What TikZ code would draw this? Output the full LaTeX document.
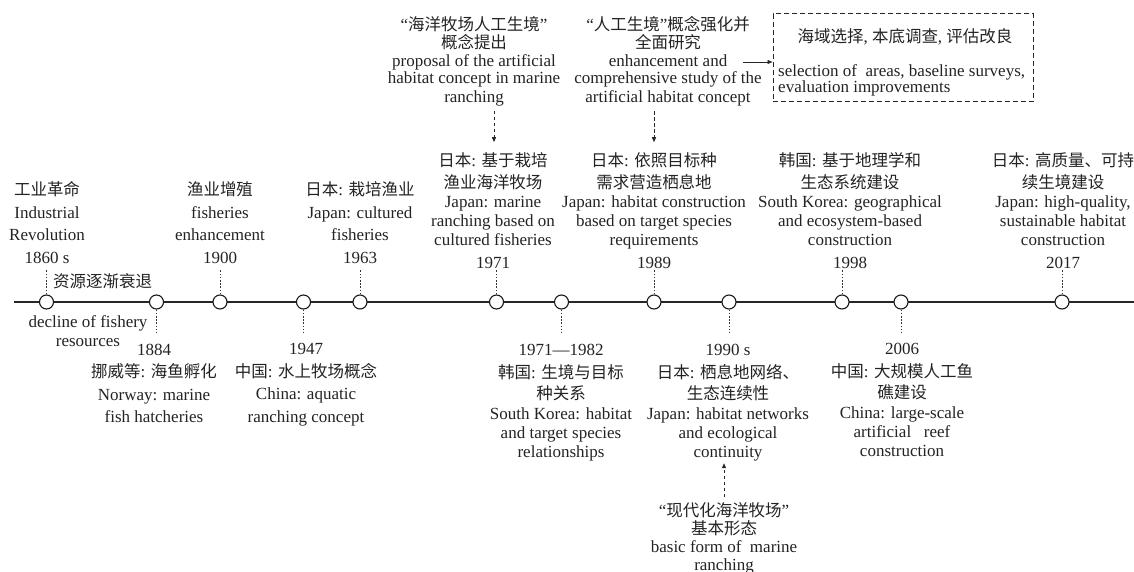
\documentclass[tikz,border=0pt]{standalone}
\usepackage{fontspec}
\setmainfont{Liberation Serif}
\newfontfamily\cjk[Scale=0.97]{Noto Sans CJK SC}
\usetikzlibrary{arrows.meta}
\newcommand\zhtx[1]{{\cjk #1}}
\newcommand\tstrut{\rule{0pt}{16pt}}
\newcommand\bstrut{\rule[-6pt]{0pt}{6pt}}
\definecolor{tc}{RGB}{35,35,35}
\begin{document}
\begin{tikzpicture}[x=1pt,y=-1pt,
 txt/.style={align=center,inner sep=0pt,text=tc,font=\fontsize{17}{19.5}\selectfont,execute at begin node=\tstrut,execute at end node=\bstrut},
 stxt/.style={inner sep=0pt,text=tc,font=\fontsize{17}{19.5}\selectfont},
 evt/.style={circle,draw=black!90,fill=white,line width=1.1pt,minimum size=14pt,inner sep=0pt},
 tl/.style={line width=2.8pt,draw=black!85},
 dotl/.style={draw=black!80,line width=1pt,dash pattern=on 1.6pt off 1.6pt},
 darr/.style={draw=black!85,line width=0.9pt,dash pattern=on 3.5pt off 2.5pt,-{Triangle[length=5pt,width=4pt]}},
 sarr/.style={draw=black!85,line width=0.9pt,-{Triangle[length=5pt,width=4pt]}},
 dbox/.style={draw=black!85,line width=1pt,dash pattern=on 5pt off 3pt,minimum width=260pt,minimum height=88pt,inner sep=0pt}
]
\useasboundingbox (0,0) rectangle (1134,572);

% timeline
\coordinate (tlA) at (14,302);
\coordinate (tlB) at (1134,302);
\draw[tl] (tlA) -- (tlB);

% dotted leader end points
\foreach \n/\x in {1860/46.5,1900/220,1963/360,1971/496.5,1989/654,1998/842,2017/1062}{
  \coordinate (u\n) at (\x,270);
}
\foreach \n/\x in {1884/156.5,1947/303.5,1982/561.5,1990/729,2006/901}{
  \coordinate (d\n) at (\x,333);
}

% event circles
\node[evt] (c1860) at (46.5,302) {};
\node[evt] (c1884) at (156.5,302) {};
\node[evt] (c1900) at (220,302) {};
\node[evt] (c1947) at (303.5,302) {};
\node[evt] (c1963) at (360,302) {};
\node[evt] (c1971) at (496.5,302) {};
\node[evt] (c1982) at (561.5,302) {};
\node[evt] (c1989) at (654,302) {};
\node[evt] (c1990) at (729,302) {};
\node[evt] (c1998) at (842,302) {};
\node[evt] (c2006) at (901,302) {};
\node[evt] (c2017) at (1062,302) {};

% dotted leaders
\foreach \n in {1860,1900,1963,1971,1989,1998,2017}{
  \draw[dotl] (c\n.north) -- (u\n);
}
\foreach \n in {1884,1947,1982,1990,2006}{
  \draw[dotl] (c\n.south) -- (d\n);
}

% group A above
\node[txt,anchor=south] (t1860) at (47,269.5) {\zhtx{工业革命}\\[3pt]Industrial\\[3pt]Revolution\\[3pt]1860 s};
\node[txt,anchor=south] (t1900) at (220,269.5) {\zhtx{渔业增殖}\\[3pt]fisheries\\[3pt]enhancement\\[3pt]1900};
\node[txt,anchor=south] (t1963) at (360,269.5) {\zhtx{日本}: \zhtx{栽培渔业}\\[3pt]Japan: cultured\\[3pt]fisheries\\[3pt]1963};
\node[stxt,anchor=base west] (tdecl) at (53,287) {\zhtx{资源逐渐衰退}};

% group B above
\node[txt,anchor=south] (t1971) at (493,274.5) {\zhtx{日本}: \zhtx{基于栽培}\\[2.5pt]\zhtx{渔业海洋牧场}\\Japan: marine\\[-0.5pt]ranching based on\\[-1pt]cultured fisheries\\[3.5pt]1971};
\node[txt,anchor=south] (t1989) at (654,274.5) {\zhtx{日本}: \zhtx{依照目标种}\\[2.5pt]\zhtx{需求营造栖息地}\\Japan: habitat construction\\[-0.5pt]based on target species\\[-1pt]requirements\\[3.5pt]1989};
\node[txt,anchor=south] (t1998) at (850,274.5) {\zhtx{韩国}: \zhtx{基于地理学和}\\[2.5pt]\zhtx{生态系统建设}\\South Korea: geographical\\[-0.5pt]and ecosystem-based\\[-1pt]construction\\[3.5pt]1998};
\node[txt,anchor=south] (t2017) at (1063,274.5) {\zhtx{日本}: \zhtx{高质量、可持}\\[2.5pt]\zhtx{续生境建设}\\Japan: high-quality,\\[-0.5pt]sustainable habitat\\[-1pt]construction\\[3.5pt]2017};

% group A below
\node[txt,anchor=north] (tdeclen) at (88,315.5) {decline of fishery\\[-0.5pt]resources};
\node[txt,anchor=north] (t1884) at (154,343.5) {1884\\[3pt]\zhtx{挪威等}: \zhtx{海鱼孵化}\\[3pt]Norway: marine\\[3pt]fish hatcheries};
\node[txt,anchor=north] (t1947) at (306,343.5) {1947\\[3pt]\zhtx{中国}: \zhtx{水上牧场概念}\\[3pt]China: aquatic\\[3pt]ranching concept};

% group B below
\node[txt,anchor=north] (t1982) at (561,343.5) {1971—1982\\[4pt]\zhtx{韩国}: \zhtx{生境与目标}\\[1.5pt]\zhtx{种关系}\\South Korea: habitat\\[-0.5pt]and target species\\[-0.5pt]relationships};
\node[txt,anchor=north] (t1990) at (728,343.5) {1990 s\\[4pt]\zhtx{日本}: \zhtx{栖息地网络、}\\[1.5pt]\zhtx{生态连续性}\\Japan: habitat networks\\[-0.5pt]and ecological\\[-0.5pt]continuity};
\node[txt,anchor=north] (t2006) at (902,342.5) {2006\\[4pt]\zhtx{中国}: \zhtx{大规模人工鱼}\\[1.5pt]\zhtx{礁建设}\\China: large-scale\\[-0.5pt]artificial\ \ \ reef\\[-0.5pt]construction};

% notes
\node[txt,anchor=north] (n1) at (474,16) {“\zhtx{海洋牧场人工生境}”\\[-1.5pt]\zhtx{概念提出}\\[-1pt]proposal of the artificial\\[-3pt]habitat concept in marine\\[-0.5pt]ranching};
\node[txt,anchor=north] (n2) at (668,16) {“\zhtx{人工生境}”\zhtx{概念强化并}\\[-1.5pt]\zhtx{全面研究}\\[-1pt]enhancement and\\[-3pt]comprehensive study of the\\[-0.5pt]artificial habitat concept};
\node[txt,anchor=north] (n3) at (724,502) {“\zhtx{现代化海洋牧场}”\\[-1.5pt]\zhtx{基本形态}\\[-1.5pt]basic form of\ \ marine\\[-1.5pt]ranching};

% dashed box
\node[dbox] (box) at (903,58) {};
\node[stxt,anchor=base] (boxzh) at (905,43) {\zhtx{海域选择}, \zhtx{本底调查}, \zhtx{评估改良}};
\node[txt,align=left,anchor=north west] (boxen) at (778,64.5) {selection of\ \ areas, baseline surveys,\\[-3.5pt]evaluation improvements};

% arrows
\coordinate (a1x) at (494,0);
\coordinate (a2x) at (654,0);
\coordinate (a3x) at (724,0);
\draw[darr,shorten <=2.5pt,shorten >=10pt] (n1.south -| a1x) -- (t1971.north -| a1x);
\draw[darr,shorten <=2.5pt,shorten >=10pt] (n2.south -| a2x) -- (t1989.north -| a2x);
\draw[darr,shorten <=5pt,shorten >=0pt] (n3.north -| a3x) -- (t1990.south -| a3x);
\coordinate (r0) at (743,62);
\draw[sarr] (r0) -- (r0 -| box.west);
\end{tikzpicture}
\end{document}
